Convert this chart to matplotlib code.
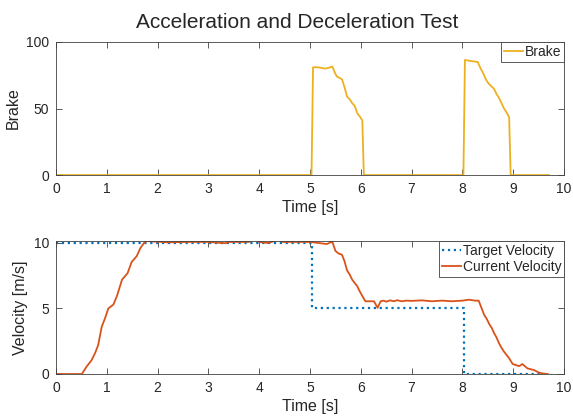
import matplotlib
matplotlib.use("Agg")
from matplotlib import pyplot as plt

plt.rcParams['font.family'] = ['Liberation Sans', 'DejaVu Sans']

# brake command (%)
brake_t = [0, 5.03, 5.06, 5.15, 5.30, 5.36, 5.44, 5.50, 5.53, 5.58, 5.63, 5.68,
           5.73, 5.78, 5.83, 5.88, 5.93, 5.98, 6.03, 6.06, 8.02, 8.05, 8.12,
           8.20, 8.30, 8.36, 8.41, 8.46, 8.51, 8.56, 8.62, 8.67, 8.72, 8.77,
           8.82, 8.87, 8.92, 8.95, 9.70]
brake_v = [0, 0, 81, 81, 80, 80.5, 81.5, 76, 74, 73, 72, 66,
           59, 57, 54, 52, 46.5, 44, 41, 0, 0, 86.5, 86,
           85.5, 85, 80, 76.5, 72, 69, 67, 65, 61, 58, 54,
           50, 47, 43.5, 0, 0]

# velocity setpoint (m/s), held between steps
target_t = [0, 5.04, 8.03, 9.55]
target_v = [10, 5, 0, 0]

# measured velocity (m/s)
current_t = [0, 0.51, 0.60, 0.70, 0.77, 0.83, 0.90, 0.97, 1.03, 1.13, 1.20,
             1.30, 1.41, 1.49, 1.59, 1.66, 1.76, 2.20, 2.60, 3.00, 3.33,
             3.40, 3.80, 3.90, 4.00, 4.16, 4.25, 4.38, 4.46, 5.00, 5.33,
             5.44, 5.50, 5.56, 5.63, 5.68, 5.73, 5.78, 5.83, 5.88, 5.93,
             5.98, 6.03, 6.09, 6.26, 6.33, 6.39, 6.45, 6.50, 6.58, 6.65,
             6.72, 6.80, 6.90, 7.00, 7.20, 7.40, 7.60, 7.80, 8.00, 8.13,
             8.25, 8.32, 8.38, 8.43, 8.48, 8.53, 8.58, 8.62, 8.67, 8.72,
             8.77, 8.82, 8.87, 8.92, 8.99, 9.12, 9.18, 9.28, 9.41, 9.51,
             9.60, 9.68]
current_v = [0, 0, 0.55, 1.05, 1.6, 2.2, 3.6, 4.3, 5.0, 5.3, 5.95,
             7.2, 7.7, 8.55, 9.0, 9.6, 10.15, 10.05, 10.08, 10.08, 9.98,
             10.08, 10.08, 10.3, 10.08, 10.0, 10.08, 10.3, 10.08, 10.08, 9.92,
             10.1, 9.4, 9.2, 9.1, 8.6, 7.9, 7.6, 7.2, 6.95, 6.7,
             6.3, 5.95, 5.55, 5.55, 5.05, 5.55, 5.6, 5.52, 5.62, 5.55,
             5.63, 5.55, 5.6, 5.58, 5.62, 5.55, 5.6, 5.55, 5.6, 5.67,
             5.6, 5.6, 5.0, 4.5, 4.2, 3.8, 3.5, 3.15, 2.8, 2.35,
             2.0, 1.7, 1.45, 1.2, 0.76, 0.6, 0.76, 0.43, 0.3, 0.1,
             0.03, 0]

yellow = '#EDB120'
blue = '#0072BD'
orange = '#D95319'
axis_gray = '#404040'
text_color = '#262626'

fig = plt.figure(figsize=(5.73, 4.19), dpi=100)
ax1 = fig.add_axes([0.0977, 0.5823, 0.8866, 0.3175])
ax2 = fig.add_axes([0.0977, 0.1074, 0.8866, 0.3174])

ax1.plot(brake_t, brake_v, color=yellow, lw=1.3, label='Brake')
ax1.set_ylim(0, 100)
ax1.set_yticks([0, 50, 100])
ax1.set_ylabel('Brake', fontsize=11.5, color=text_color)

ax2.plot(target_t, target_v, color=blue, lw=1.6, ls=':', drawstyle='steps-post',
         label='Target Velocity')
ax2.plot(current_t, current_v, color=orange, lw=1.3, label='Current Velocity')
ax2.set_ylim(0, 10.15)
ax2.set_yticks([0, 5, 10])
ax2.set_ylabel('Velocity [m/s]', fontsize=11.5, color=text_color)

for ax in (ax1, ax2):
    ax.set_xlim(0, 10)
    ax.set_xticks(range(0, 11))
    ax.set_xlabel('Time [s]', fontsize=11.5, labelpad=3, color=text_color)
    ax.tick_params(direction='in', top=True, right=True, length=4,
                   width=0.6, color=axis_gray, labelsize=10, pad=5,
                   labelcolor=text_color)
    for sp in ax.spines.values():
        sp.set_color(axis_gray)
        sp.set_linewidth(0.6)
    leg = ax.legend(loc='upper right', fontsize=10, handlelength=1.4,
                    handletextpad=0.1, borderpad=0.2, labelspacing=0.15,
                    borderaxespad=0, fancybox=False, framealpha=1)
    leg.get_frame().set_edgecolor(axis_gray)
    leg.get_frame().set_linewidth(0.6)
    for txt in leg.get_texts():
        txt.set_color(text_color)

fig.suptitle('Acceleration and Deceleration Test', fontsize=15, x=0.518, y=0.968,
             color=text_color)

fig.savefig('out.png', dpi=100)
